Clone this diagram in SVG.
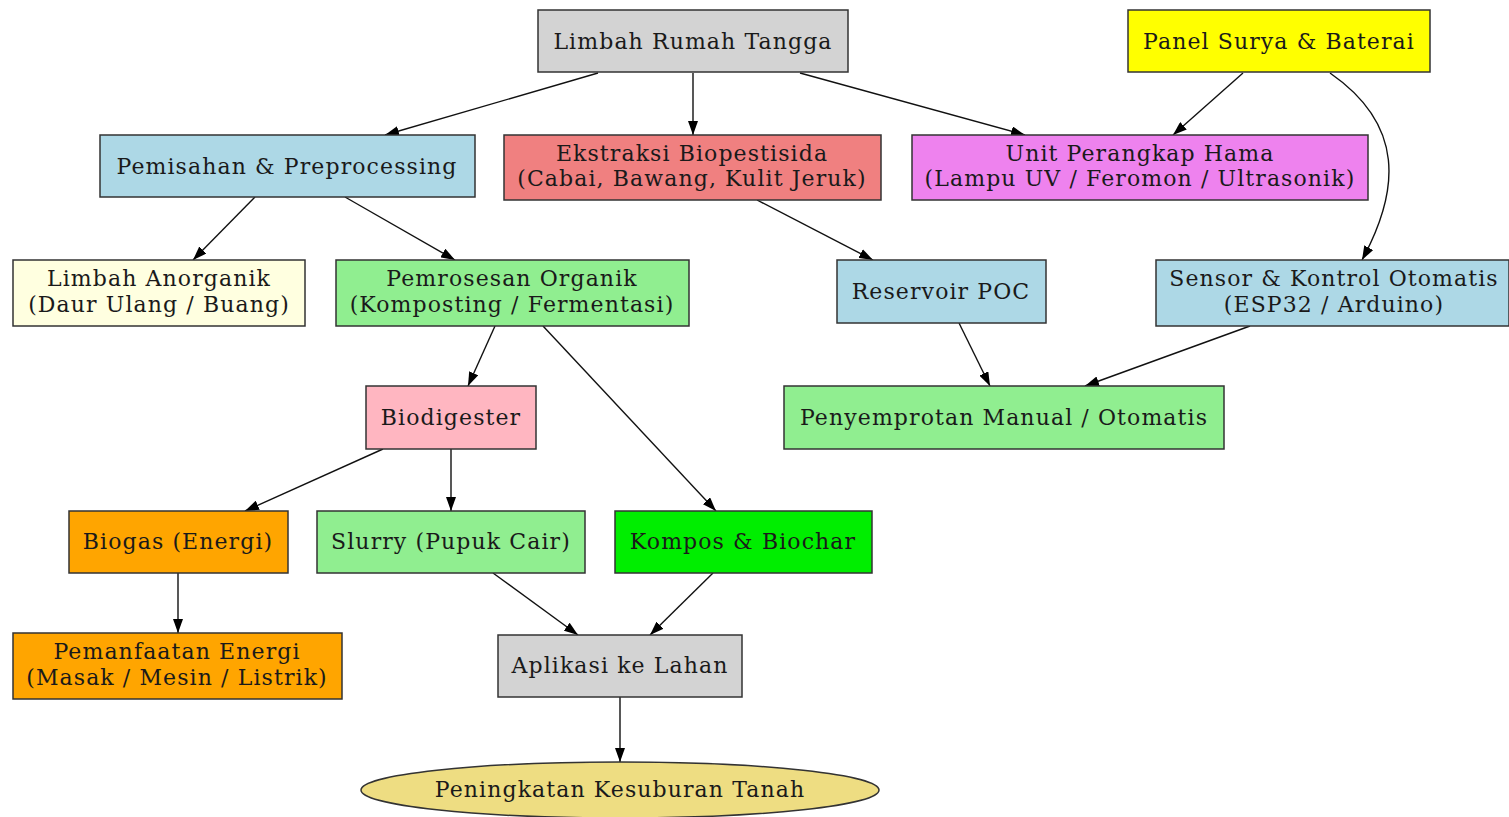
<svg xmlns="http://www.w3.org/2000/svg" width="1509" height="817" viewBox="0 0 1509 817">
<defs>
<marker id="arr" viewBox="0 0 10 10" refX="10" refY="5" markerWidth="14" markerHeight="10" markerUnits="userSpaceOnUse" orient="auto" preserveAspectRatio="none"><path d="M0,0 L10,5 L0,10 z" fill="#000"/></marker>
</defs>
<style>
.n rect, .n ellipse { stroke:#333; stroke-width:1.5; }
.n text { font-family:"DejaVu Serif","Liberation Serif",serif; font-size:22px; letter-spacing:1.1px; fill:#1a1a1a; text-anchor:middle; }
.e path { fill:none; stroke:#111; stroke-width:1.4; marker-end:url(#arr); }
</style>
<rect width="1509" height="817" fill="#fff"/>
<g id="edges" class="e">
<path d="M598,73 L385,135"/>
<path d="M693,73 L693,135"/>
<path d="M800,73 L1025,135"/>
<path d="M1243,73 L1173,135"/>
<path d="M1330,73 C1405,125 1400,190 1362,260"/>
<path d="M255,197 L193,260"/>
<path d="M345,197 L455,260"/>
<path d="M757,200 L873,260"/>
<path d="M495,326 L468,386"/>
<path d="M543,326 L716,511"/>
<path d="M959,323 L990,386"/>
<path d="M1250,326 L1085,386"/>
<path d="M383,449 L245,511"/>
<path d="M451,449 L451,511"/>
<path d="M178,573 L178,633"/>
<path d="M493,573 L578,635"/>
<path d="M713,573 L650,635"/>
<path d="M620,697 L620,762"/>
</g>
<g id="n1" class="n"><rect x="538" y="10" width="310" height="62" fill="#d3d3d3"/><text x="693" y="49">Limbah Rumah Tangga</text></g>
<g id="n2" class="n"><rect x="1128" y="10" width="302" height="62" fill="#ffff00"/><text x="1279" y="49">Panel Surya &amp; Baterai</text></g>
<g id="n3" class="n"><rect x="100" y="135" width="375" height="62" fill="#add8e6"/><text x="287" y="174">Pemisahan &amp; Preprocessing</text></g>
<g id="n4" class="n"><rect x="504" y="135" width="377" height="65" fill="#f08080"/><text x="692" y="161">Ekstraksi Biopestisida</text><text x="692" y="186">(Cabai, Bawang, Kulit Jeruk)</text></g>
<g id="n5" class="n"><rect x="912" y="135" width="456" height="65" fill="#ee82ee"/><text x="1140" y="161">Unit Perangkap Hama</text><text x="1140" y="186">(Lampu UV / Feromon / Ultrasonik)</text></g>
<g id="n6" class="n"><rect x="13" y="260" width="292" height="66" fill="#ffffe0"/><text x="159" y="286">Limbah Anorganik</text><text x="159" y="312">(Daur Ulang / Buang)</text></g>
<g id="n7" class="n"><rect x="336" y="260" width="353" height="66" fill="#90ee90"/><text x="512" y="286">Pemrosesan Organik</text><text x="512" y="312">(Komposting / Fermentasi)</text></g>
<g id="n8" class="n"><rect x="837" y="260" width="209" height="63" fill="#add8e6"/><text x="941" y="299">Reservoir POC</text></g>
<g id="n9" class="n"><rect x="1156" y="260" width="353" height="66" fill="#add8e6"/><text x="1334" y="286">Sensor &amp; Kontrol Otomatis</text><text x="1334" y="312">(ESP32 / Arduino)</text></g>
<g id="n10" class="n"><rect x="366" y="386" width="170" height="63" fill="#ffb6c1"/><text x="451" y="425">Biodigester</text></g>
<g id="n11" class="n"><rect x="784" y="386" width="440" height="63" fill="#90ee90"/><text x="1004" y="425">Penyemprotan Manual / Otomatis</text></g>
<g id="n12" class="n"><rect x="69" y="511" width="219" height="62" fill="#ffa500"/><text x="178" y="549">Biogas (Energi)</text></g>
<g id="n13" class="n"><rect x="317" y="511" width="268" height="62" fill="#90ee90"/><text x="451" y="549">Slurry (Pupuk Cair)</text></g>
<g id="n14" class="n"><rect x="615" y="511" width="257" height="62" fill="#00ee00"/><text x="743" y="549">Kompos &amp; Biochar</text></g>
<g id="n15" class="n"><rect x="13" y="633" width="329" height="66" fill="#ffa500"/><text x="177" y="659">Pemanfaatan Energi</text><text x="177" y="685">(Masak / Mesin / Listrik)</text></g>
<g id="n16" class="n"><rect x="498" y="635" width="244" height="62" fill="#d3d3d3"/><text x="620" y="673">Aplikasi ke Lahan</text></g>
<g id="n17" class="n"><ellipse cx="620" cy="790" rx="259" ry="28" fill="#eedd82"/><text x="620" y="797">Peningkatan Kesuburan Tanah</text></g>
</svg>
